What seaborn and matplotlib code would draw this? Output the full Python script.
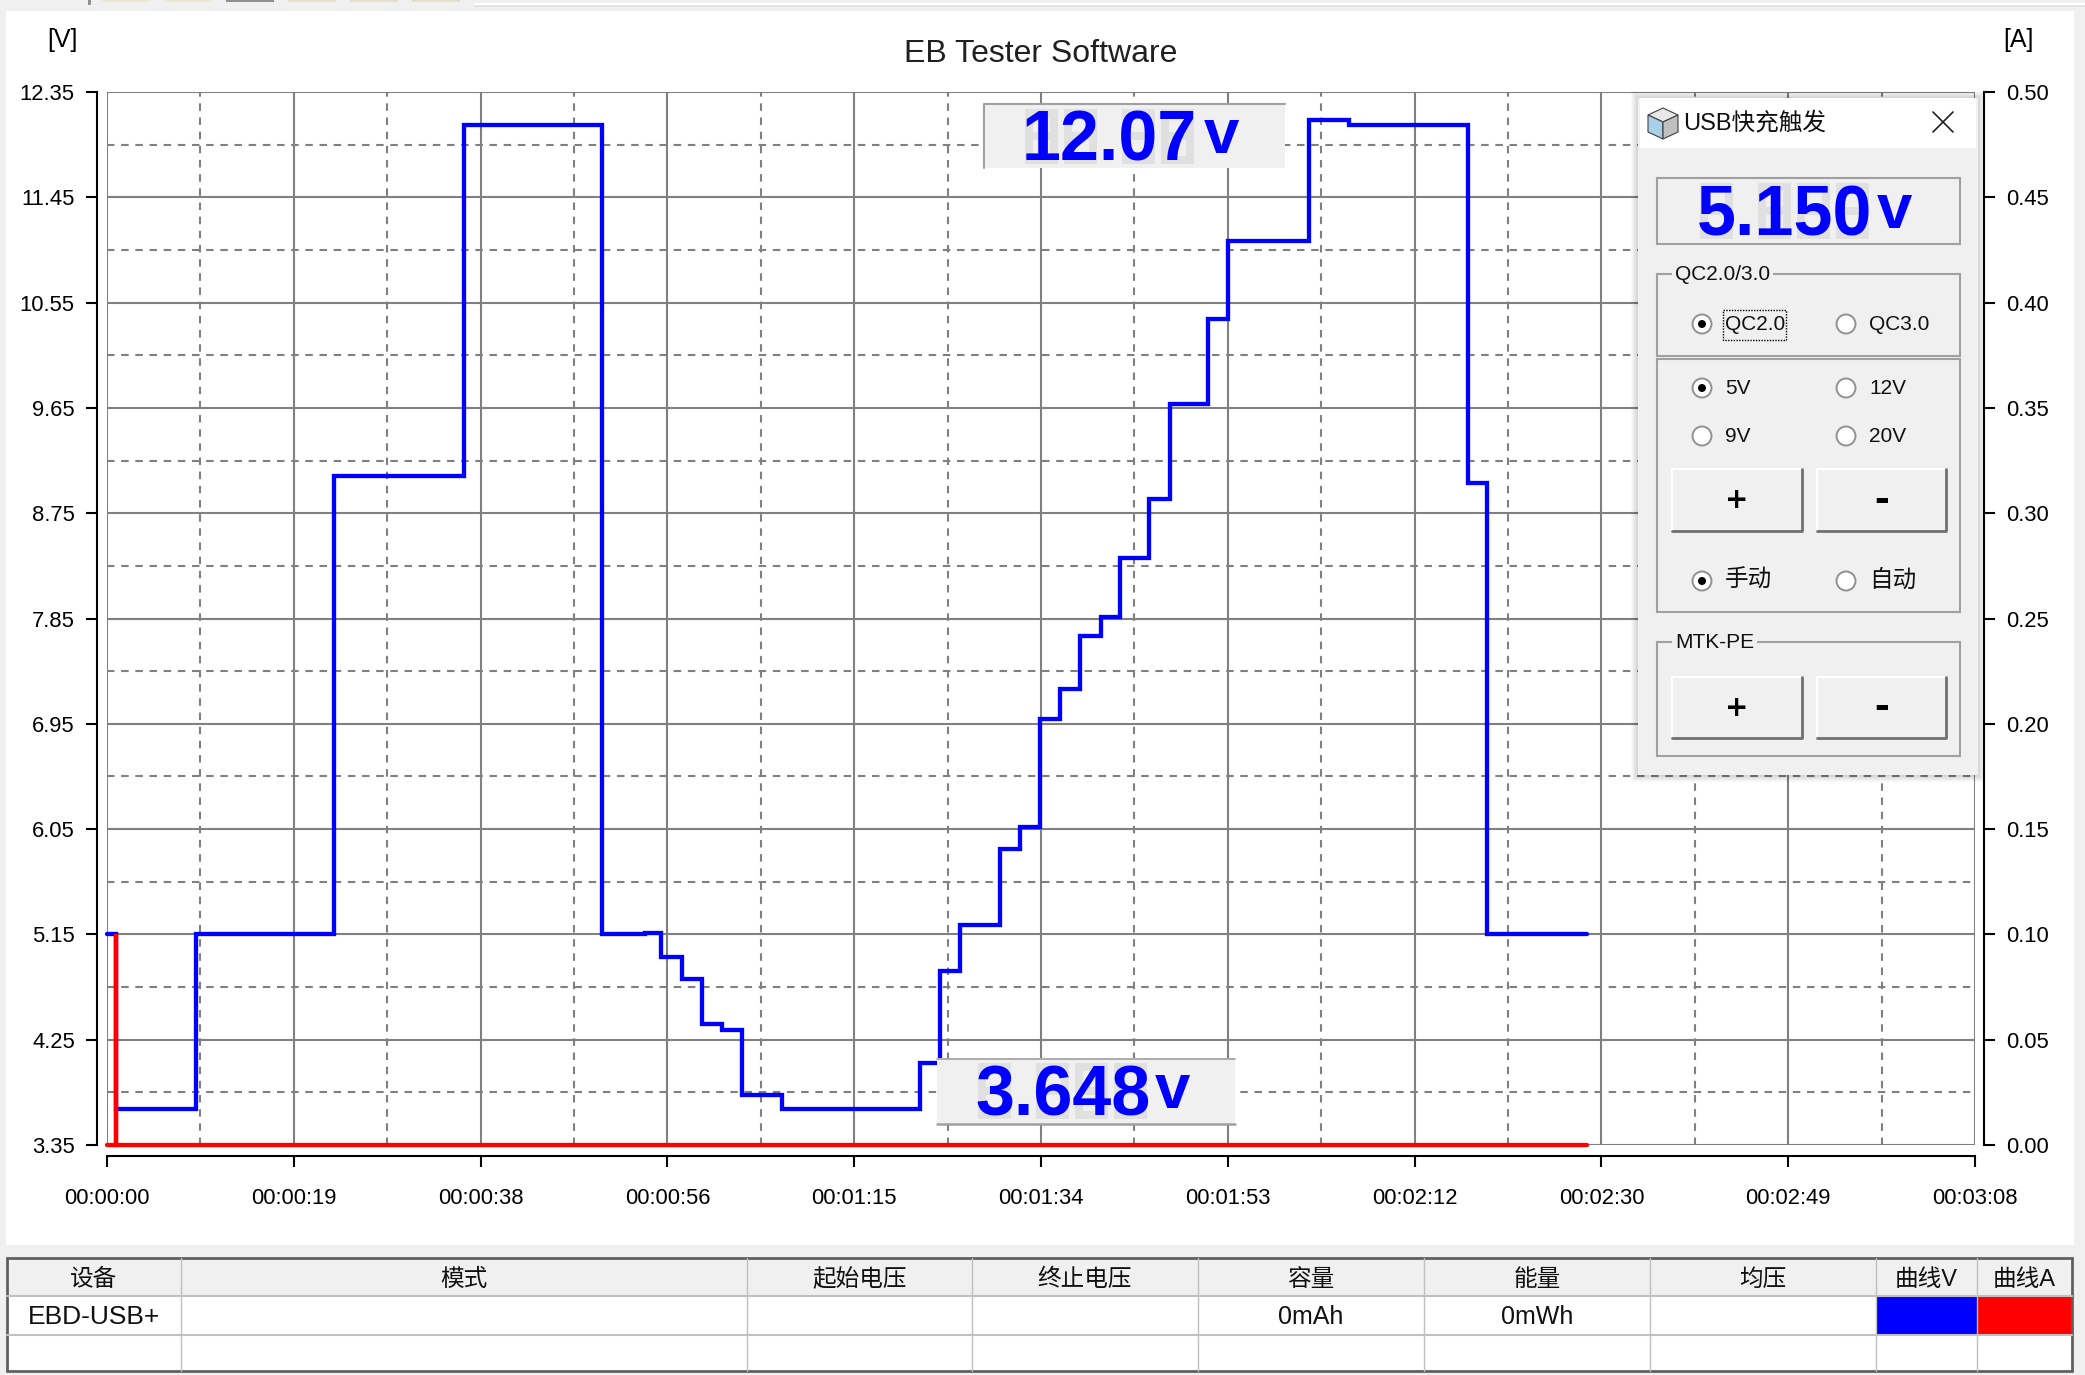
import numpy as np
import pandas as pd
import matplotlib
matplotlib.use('Agg')
import matplotlib.pyplot as plt
from matplotlib.patches import Rectangle, Ellipse, Polygon
import seaborn as sns

# values
time_v = [0, 0.9, 9.0, 22.8, 35.9, 49.8, 54.1, 55.8, 57.9, 59.9, 61.9, 63.9, 67.9, 81.8, 83.8, 85.8,
          89.9, 91.9, 93.9, 95.9, 97.9, 100.0, 102.0, 104.9, 107.0, 110.8, 112.8, 121.0, 125.0, 137.0, 138.9, 149.0]
voltage = [5.15, 3.66, 5.15, 9.07, 12.07, 5.15, 5.16, 4.96, 4.77, 4.38, 4.33, 3.78, 3.66, 4.05, 4.84, 5.23,
           5.88, 6.07, 6.99, 7.25, 7.70, 7.86, 8.37, 8.87, 9.68, 10.41, 11.08, 12.11, 12.07, 9.01, 5.15, 5.15]
time_a = [0, 0.9, 0.9, 149.0]
current = [0, 0.10, 0, 0]

x_ticks = [0, 18.8, 37.6, 56.4, 75.2, 94.0, 112.8, 131.6, 150.4, 169.2, 188.0]
x_labels = ['00:00:00', '00:00:19', '00:00:38', '00:00:56', '00:01:15', '00:01:34',
            '00:01:53', '00:02:12', '00:02:30', '00:02:49', '00:03:08']
v_ticks = [3.35, 4.25, 5.15, 6.05, 6.95, 7.85, 8.75, 9.65, 10.55, 11.45, 12.35]
a_ticks = [0.00, 0.05, 0.10, 0.15, 0.20, 0.25, 0.30, 0.35, 0.40, 0.45, 0.50]

headers = ['设备', '模式', '起始电压', '终止电压', '容量', '能量', '均压', '曲线V', '曲线A']
row1 = ['EBD-USB+', '', '', '', '0mAh', '0mWh', '', '', '']

W, H = 2085, 1375
GREY = '#f0f0f0'
BLUE = '#0000ff'
RED = '#ff0000'
GRID = '#808080'
BORDER = '#a0a0a0'

sns.set_theme(style='white')
plt.rcParams['font.family'] = ['Liberation Sans', 'Noto Sans CJK SC']

fig = plt.figure(figsize=(W / 100, H / 100), dpi=100, facecolor=GREY)


def full_axes(z):
    a = fig.add_axes([0, 0, 1, 1], zorder=z)
    a.set_xlim(0, W)
    a.set_ylim(H, 0)
    a.axis('off')
    return a


def rect(a, x0, y0, x1, y1, fc='none', ec='none', lw=0, **kw):
    a.add_patch(Rectangle((x0, y0), x1 - x0, y1 - y0, facecolor=fc, edgecolor=ec, linewidth=lw, **kw))


# window background
bg = full_axes(0)
rect(bg, 6, 11, 2074, 1245, fc='white')
rect(bg, 474, 3, W, 5, fc='white')
rect(bg, 474, 5, W, 7, fc='#e4e4e4')
rect(bg, 88, 0, 91, 5, fc='#909090')
for x0, c in zip([102, 164, 226, 288, 350, 412], ['#eee8d0', '#eee8d0', '#909090', '#e4dfc8', '#e4dfc8', '#e4dfc8']):
    rect(bg, x0, 0, x0 + 48, 1.5, fc=c)

# main chart
ax = fig.add_axes([107 / W, 1 - 1145 / H, (1975 - 107) / W, (1145 - 92) / H], zorder=1)
ax.patch.set_alpha(0)
df_v = pd.DataFrame({'t': time_v, 'v': voltage})
sns.lineplot(data=df_v, x='t', y='v', ax=ax, color=BLUE, linewidth=3.1, drawstyle='steps-post', estimator=None,
             sort=False, errorbar=None, clip_on=False, solid_joinstyle='miter', zorder=5)
ax.set_xlim(0, 188)
ax.set_ylim(3.35, 12.35)
ax.set_xticks(x_ticks)
ax.set_xticklabels(x_labels)
ax.set_yticks(v_ticks)
ax.set_yticklabels(['%.2f' % v for v in v_ticks])
ax.set_xticks((np.array(x_ticks[:-1]) + np.array(x_ticks[1:])) / 2, minor=True)
ax.set_yticks((np.array(v_ticks[:-1]) + np.array(v_ticks[1:])) / 2, minor=True)
ax.set_xlabel('')
ax.set_ylabel('')
ax.set_axisbelow(True)
ax.grid(which='major', color=GRID, lw=1.5, ls='-')
ax.grid(which='minor', color=GRID, lw=1.5, ls=(0, (3.6, 3.2)))
for gl in ax.get_xgridlines() + ax.get_ygridlines():
    gl.set_clip_on(False)
ax.tick_params(which='major', axis='x', length=8, width=1.5, color='black', bottom=True, pad=15, labelsize=15.8, labelcolor='black')
ax.tick_params(which='major', axis='y', length=8, width=1.5, color='black', left=True, pad=8, labelsize=15.8, labelcolor='black')
ax.tick_params(which='minor', length=0)
ax.spines['top'].set_visible(False)
ax.spines['right'].set_visible(False)
ax.spines['left'].set_position(('outward', 7.2))
ax.spines['bottom'].set_position(('outward', 8))
for s in ['left', 'bottom']:
    ax.spines[s].set_color('black')
    ax.spines[s].set_linewidth(1.5)

ax2 = ax.twinx()
ax2.set_zorder(2)
ax2.patch.set_alpha(0)
df_a = pd.DataFrame({'t': time_a, 'a': current})
sns.lineplot(data=df_a, x='t', y='a', ax=ax2, color=RED, linewidth=3.1, drawstyle='steps-post', estimator=None,
             sort=False, errorbar=None, clip_on=False, solid_joinstyle='miter')
ax2.set_xlim(0, 188)
ax2.set_ylim(0, 0.5)
ax2.set_yticks(a_ticks)
ax2.set_yticklabels(['%.2f' % v for v in a_ticks])
ax2.set_ylabel('')
ax2.grid(False)
ax2.tick_params(axis='y', length=8, width=1.5, color='black', right=True, pad=8, labelsize=15.8, labelcolor='black')
for s in ['top', 'left', 'bottom']:
    ax2.spines[s].set_visible(False)
ax2.spines['right'].set_position(('outward', 6.5))
ax2.spines['right'].set_color('black')
ax2.spines['right'].set_linewidth(1.5)

ui = full_axes(3)
ui.text(1041, 54, 'EB Tester Software', ha='center', va='center', fontsize=23, color='#202020')
ui.text(62, 40, '[V]', ha='center', va='center', fontsize=18, color='black')
ui.text(2018, 40, '[A]', ha='center', va='center', fontsize=18, color='black')


def ghost_digit(cx, cy, w, h, t):
    # unlit LCD segments
    x0, x1 = cx - w / 2, cx + w / 2
    y0, y1 = cy - h / 2, cy + h / 2
    for y in [y0, cy - t / 2, y1 - t]:
        rect(ui, x0, y, x1, y + t, fc='#e0e0e0')
    for x in [x0, x1 - t]:
        rect(ui, x, y0, x + t, y1, fc='#e0e0e0')


def readout(value, x0, cy, height, v_x, v_h):
    # no narrow font installed, so the digits stay a bit lower than the lcd cell
    em = 70
    adv, dot = 0.556 * em, 0.278 * em
    x = x0
    for ch in value:
        if ch == '.':
            x += dot
        else:
            ghost_digit(x + adv / 2, cy, 33, height, 8)
            x += adv
    ui.text(x0, cy + 0.35 * em, value, ha='left', va='baseline', fontsize=em * 0.72, color=BLUE, weight='bold')
    ui.text(v_x, cy + v_h / 2, 'v', ha='center', va='baseline', fontsize=v_h / 0.52 * 0.72, color=BLUE, weight='bold')


# top readout
rect(ui, 983, 103, 1285, 168, fc=GREY)
ui.plot([984, 984, 1285], [168, 104, 104], color=BORDER, lw=1.5)
readout('12.07', 1022, 136, 55, 1221, 33)

# bottom readout
rect(ui, 937, 1058, 1235, 1124, fc=GREY)
ui.plot([937, 1235], [1059, 1059], color=BORDER, lw=1.2)
ui.plot([937, 1235], [1124, 1124], color=BORDER, lw=1.8)
readout('3.648', 975, 1091, 56, 1172, 33)

# popup panel
for e in range(7, 0, -1):
    rect(ui, 1638 - e, 98 - e, 1978 + e, 775 + e, fc='black', alpha=0.025)
rect(ui, 1638, 98, 1978, 775, fc=GREY)
rect(ui, 1640, 98, 1976, 148, fc='white')
ui.add_patch(Polygon([(1648, 115), (1663, 108), (1678, 115), (1663, 122)], fc='#e8e8e8', ec='#404040', lw=0.8))
ui.add_patch(Polygon([(1648, 115), (1663, 122), (1663, 139), (1648, 132)], fc='#a8d0e8', ec='#404040', lw=0.8))
ui.add_patch(Polygon([(1678, 115), (1663, 122), (1663, 139), (1678, 132)], fc='#c0c0c0', ec='#404040', lw=0.8))
ui.text(1683, 123, 'USB快充触发', ha='left', va='center', fontsize=17, color='#101010')
ui.plot([1933, 1953], [112, 132], color='#202020', lw=1.2)
ui.plot([1933, 1953], [132, 112], color='#202020', lw=1.2)

rect(ui, 1657, 178, 1960, 244, ec=BORDER, lw=1.5)
readout('5.150', 1697, 211, 56, 1894, 33)

rect(ui, 1657, 274, 1960, 356, ec=BORDER, lw=1.5)
rect(ui, 1657, 359, 1960, 612, ec=BORDER, lw=1.5)
rect(ui, 1657, 642, 1960, 756, ec=BORDER, lw=1.5)
ui.text(1675, 274, 'QC2.0/3.0', ha='left', va='center', fontsize=15, color='#101010',
        bbox=dict(fc=GREY, ec='none', pad=2))
ui.text(1675, 642, 'MTK-PE', ha='left', va='center', fontsize=15, color='#101010',
        bbox=dict(fc=GREY, ec='none', pad=2))


def radio(x, y, label, on=False):
    ui.add_patch(Ellipse((x, y), 19, 19, fc='white', ec='#909090', lw=1.4))
    if on:
        ui.add_patch(Ellipse((x, y), 8, 8, fc='black', ec='none'))
    ui.text(x + 23, y, label, ha='left', va='center', fontsize=17 if ord(label[0]) > 255 else 15, color='#101010')


radio(1702, 324, 'QC2.0', True)
radio(1846, 324, 'QC3.0')
radio(1702, 388, '5V', True)
radio(1846, 388, '12V')
radio(1702, 436, '9V')
radio(1846, 436, '20V')
radio(1702, 581, '手动', True)
radio(1846, 581, '自动')
rect(ui, 1723, 310, 1786, 340, ec='black', lw=1, ls=(0, (1, 1)))


def button(x0, y0, x1, y1, label):
    rect(ui, x0, y0, x1, y1, fc=GREY)
    ui.plot([x0, x0, x1], [y1, y0, y0], color='white', lw=1.5)
    ui.plot([x0, x1, x1], [y1, y1, y0], color='#707070', lw=2)
    size = 20 if label == '+' else 32
    fam = 'DejaVu Sans' if label == '+' else 'Liberation Sans'
    ui.text((x0 + x1) / 2, (y0 + y1) / 2, label, ha='center', va='center', fontsize=size, weight='bold',
            color='black', family=fam)


button(1672, 469, 1802, 531, '+')
button(1817, 469, 1946, 531, '-')
button(1672, 677, 1802, 738, '+')
button(1817, 677, 1946, 738, '-')

# table under the chart
col_x = [7, 181, 747, 972, 1198, 1424, 1650, 1876, 1977, 2072]
rect(ui, 7, 1258, 2072, 1296, fc=GREY)
rect(ui, 7, 1296, 2072, 1371, fc='white')
rect(ui, col_x[7], 1297, col_x[8], 1334, fc=BLUE)
rect(ui, col_x[8], 1297, col_x[9], 1334, fc=RED)
for x in col_x[1:-1]:
    ui.plot([x, x], [1258, 1371], color='#c0c0c0', lw=1)
for y in [1296, 1335]:
    ui.plot([7, 2072], [y, y], color='#c0c0c0', lw=1.5)
rect(ui, 7, 1258, 2072, 1371, ec='#606060', lw=2)
for i, name in enumerate(headers):
    cx = (col_x[i] + col_x[i + 1]) / 2
    ui.text(cx, 1280, name, ha='center', va='center', fontsize=17, color='#101010')
    if row1[i]:
        ui.text(cx, 1317, row1[i], ha='center', va='center', fontsize=19 if i == 0 else 18, color='#101010')

fig.savefig('out.png', dpi=100, facecolor=GREY)
